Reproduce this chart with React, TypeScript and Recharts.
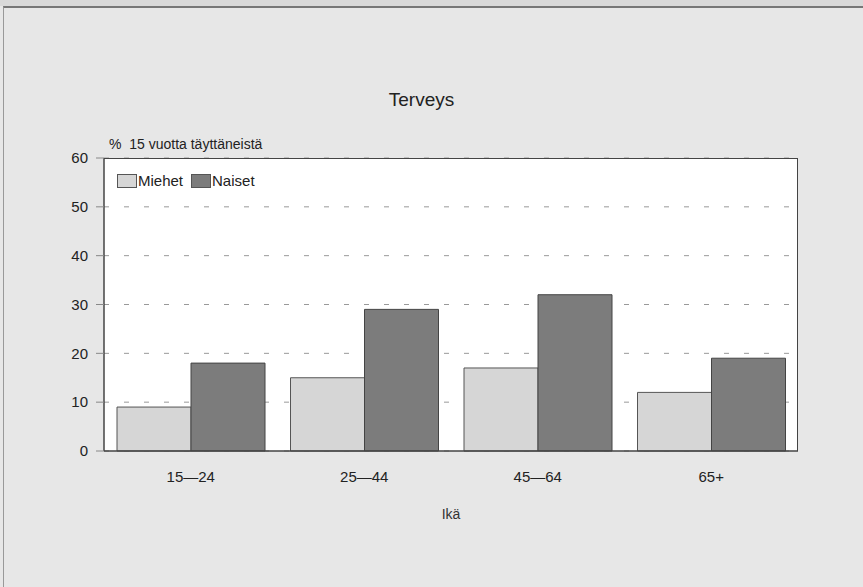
import { BarChart, Bar, XAxis, YAxis, CartesianGrid } from 'recharts';

const ageGroups = ['15\u201424', '25\u201444', '45\u201464', '65+'];
const miehet = [9, 15, 17, 12];
const naiset = [18, 29, 32, 19];
const yTicks = [0, 10, 20, 30, 40, 50, 60];

const data = ageGroups.map((g, i) => ({ age: g, Miehet: miehet[i], Naiset: naiset[i] }));

const FONT = '"Liberation Sans", Arial, sans-serif';
const COLORS = { Miehet: '#d6d6d6', Naiset: '#7c7c7c' };

function LegendBox() {
  return (
    <div style={{ display: 'flex', gap: 8, fontFamily: FONT, fontSize: 15, color: '#222' }}>
      {(['Miehet', 'Naiset'] as const).map((k) => (
        <span key={k} style={{ display: 'flex', alignItems: 'center' }}>
          <span style={{ width: 18, height: 12, background: COLORS[k], border: '1px solid #555', marginRight: 1 }} />
          {k}
        </span>
      ))}
    </div>
  );
}

export default function App() {
  return (
    <div style={{ position: 'absolute', left: 0, top: 0, width: 863, height: 587, background: '#e7e7e7', overflow: 'hidden' }}>
      <div style={{ position: 'absolute', left: 0, top: 0, width: 863, height: 6, background: '#d9d9d9' }} />
      <div style={{ position: 'absolute', left: 3, top: 6, width: 860, height: 581, borderTop: '2px solid #777', borderLeft: '1px solid #999' }} />
      <div style={{ position: 'absolute', left: 0, top: 89, width: 843, textAlign: 'center', fontFamily: FONT, fontSize: 19, color: '#222' }}>
        Terveys
      </div>
      <div style={{ position: 'absolute', left: 109, top: 136, fontFamily: FONT, fontSize: 14, color: '#222' }}>
        %&nbsp; 15 vuotta täyttäneistä
      </div>
      <div style={{ position: 'absolute', left: 0, top: 506, width: 902, textAlign: 'center', fontFamily: FONT, fontSize: 14, color: '#333' }}>
        Ikä
      </div>
      <div style={{ position: 'absolute', left: 0, top: 0 }}>
        <BarChart
          width={863}
          height={587}
          data={data}
          margin={{ top: 158, right: 65, bottom: 106, left: 0 }}
          barCategoryGap="7.5%"
          barGap={0}
        >
          <CartesianGrid vertical={false} stroke="#999" strokeDasharray="5 15" fill="#ffffff" />
          <XAxis
            dataKey="age"
            axisLine={{ stroke: '#444', strokeWidth: 1.5 }}
            tickLine={false}
            tickMargin={14}
            tick={{ fontFamily: FONT, fontSize: 15, fill: '#222' }}
            height={30}
          />
          <YAxis
            domain={[0, 60]}
            ticks={yTicks}
            width={104}
            axisLine={{ stroke: '#444', strokeWidth: 1.5 }}
            tickLine={{ stroke: '#888' }}
            tickSize={8}
            tickMargin={8}
            tick={{ fontFamily: FONT, fontSize: 15, fill: '#222' }}
          />
          <Bar dataKey="Miehet" fill={COLORS.Miehet} stroke="#555" strokeWidth={1} isAnimationActive={false} />
          <Bar dataKey="Naiset" fill={COLORS.Naiset} stroke="#444" strokeWidth={1} isAnimationActive={false} />
        </BarChart>
      </div>
      <div style={{ position: 'absolute', left: 104, top: 158, width: 693, height: 292, borderTop: '1.5px solid #444', borderRight: '1.5px solid #444', pointerEvents: 'none' }} />
      <div style={{ position: 'absolute', left: 117, top: 172 }}>
        <LegendBox />
      </div>
    </div>
  );
}
